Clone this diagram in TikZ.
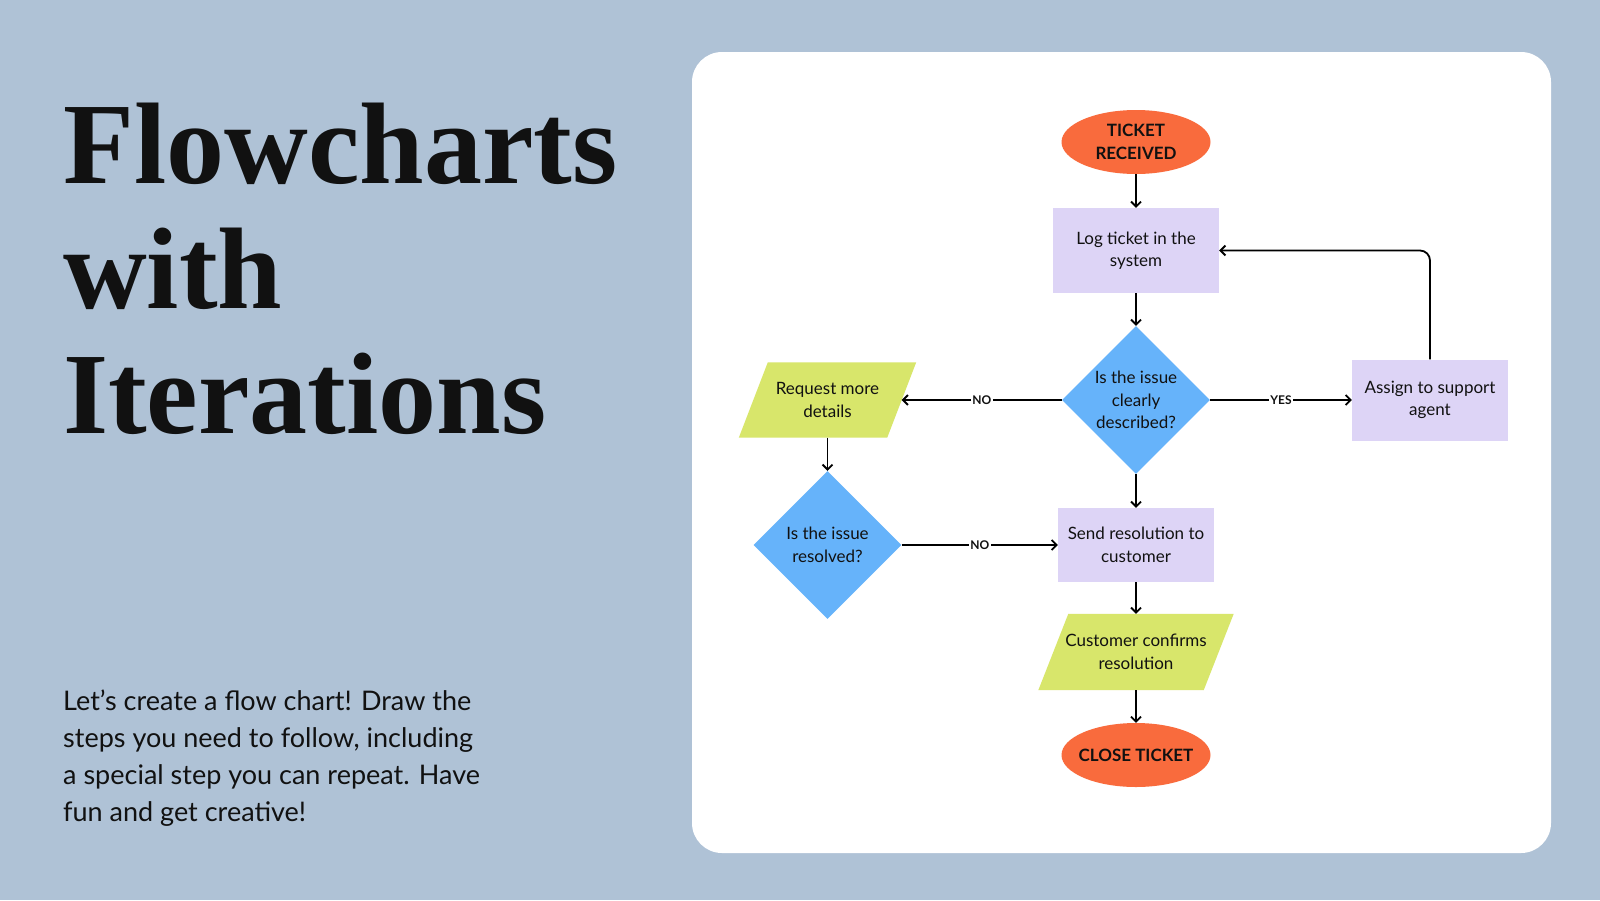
\documentclass[tikz,border=0pt]{standalone}
\usepackage{fontspec}
\setmainfont{Lato}
\newfontfamily\titlefont{Liberation Serif}
\usetikzlibrary{shapes.geometric,arrows.meta,calc,backgrounds}
\definecolor{bgc}{HTML}{AFC2D6}
\definecolor{orng}{HTML}{F96B3D}
\definecolor{lav}{HTML}{DDD4F6}
\definecolor{ygreen}{HTML}{D8E66B}
\definecolor{skyb}{HTML}{66B3FA}
\definecolor{ink}{HTML}{111111}
\newcommand{\nodefnt}{\fontsize{17}{22.5}\selectfont}
\begin{document}
\begin{tikzpicture}[x=1pt,y=-1pt,
  every node/.style={text=ink},
  box/.style={rectangle, fill=lav, inner sep=0pt, align=center, font=\nodefnt},
  term/.style={ellipse, fill=orng, inner sep=0pt, minimum width=149pt, minimum height=64pt, align=center, font=\nodefnt\bfseries},
  dec/.style={diamond, aspect=1, fill=skyb, inner sep=0pt, minimum width=148pt, minimum height=148pt, align=center, font=\nodefnt},
  io/.style={rectangle, inner sep=0pt, align=center, font=\nodefnt},
  arr/.style={draw=black, line width=1.8pt, -{Straight Barb[length=5pt,width=10pt,line width=1.8pt]}},
  lbl/.style={fill=white, inner sep=1.5pt, font=\fontsize{12}{12}\selectfont\bfseries}
]
\useasboundingbox (0,0) rectangle (1600,900);
\begin{scope}[on background layer]
\fill[bgc] (0,0) rectangle (1600,900);
\fill[white, rounded corners=30pt] (692,52) rectangle (1551,853);
\end{scope}

% title and body
\node[anchor=base west, align=left, inner sep=0pt, font=\titlefont\bfseries\fontsize{116}{125}\selectfont] (title) at (63,433) {Flowcharts\\with\\Iterations};
\node[anchor=base west, align=left, inner sep=0pt, font=\fontsize{27}{36.7}\selectfont] (body) at (63,821) {Let’s create a flow chart! Draw the\\steps you need to follow, including\\a special step you can repeat. Have\\fun and get creative!};

% flowchart nodes
\node[term] (start) at (1136,142) {TICKET\\RECEIVED};
\node[box, minimum width=166pt, minimum height=85pt] (log) at (1136,250.5) {Log ticket in the\\system};
\node[dec] (d1) at (1136,400) {Is the issue\\clearly\\described?};
\node[io, minimum width=148pt, minimum height=75pt] (req) at (827.5,400) {Request more\\details};
\node[dec] (d2) at (827.5,545) {Is the issue\\resolved?};
\node[box, minimum width=156pt, minimum height=74pt] (send) at (1136,545) {Send resolution to\\customer};
\node[io, minimum width=165pt, minimum height=76pt] (conf) at (1136,652) {Customer confirms\\resolution};
\node[term] (close) at (1136,755) {\makebox[0pt]{CLOSE TICKET}};
\node[box, minimum width=156pt, minimum height=81pt] (assign) at (1430,400) {Assign to support\\agent};

% parallelogram fills
\begin{scope}[on background layer]
\fill[ygreen] ($(req.north west)+(14.5,0)$) -- ($(req.north east)+(14.5,0)$) -- ($(req.south east)-(14.5,0)$) -- ($(req.south west)-(14.5,0)$) -- cycle;
\fill[ygreen] ($(conf.north west)+(15,0)$) -- ($(conf.north east)+(15,0)$) -- ($(conf.south east)-(15,0)$) -- ($(conf.south west)-(15,0)$) -- cycle;
\end{scope}

% connectors
\draw[arr] (start) -- (log);
\draw[arr] (log) -- (d1);
\draw[arr] (d1) -- node[lbl]{NO} (req.east);
\draw[arr] (d1) -- node[lbl]{YES} (assign);
\draw[arr, rounded corners=10pt] (assign.north) |- (log.east);
\draw[arr] (req) -- (d2);
\draw[arr] (d2) -- node[lbl]{NO} (send);
\draw[arr] (d1) -- (send);
\draw[arr] (send) -- (conf);
\draw[arr] (conf) -- (close);
\end{tikzpicture}
\end{document}
